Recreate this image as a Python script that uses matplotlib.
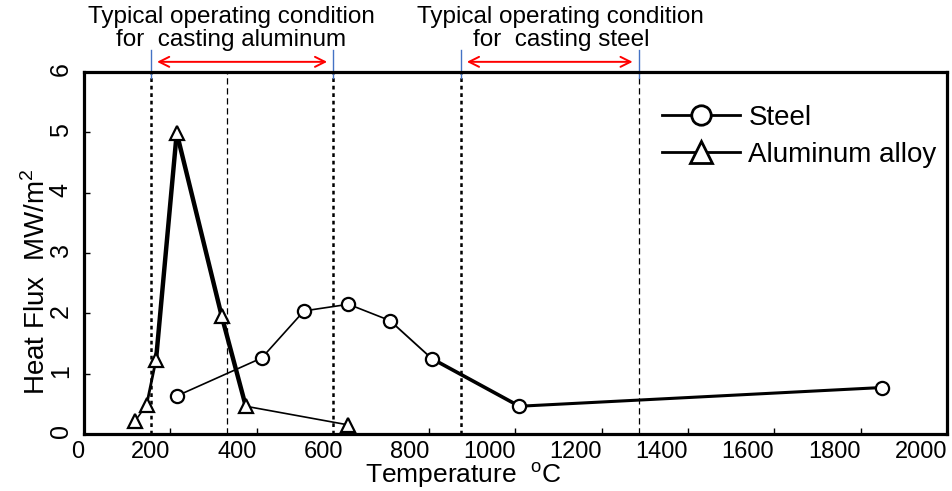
'''
Heat flux against temperature for steel and aluminium
casting, redrawn from a scanned figure
'''

import numpy as np
import matplotlib
matplotlib.use('Agg')
import matplotlib.pyplot as plt
from matplotlib.lines import Line2D

plt.rcParams['font.family']=['Liberation Sans','DejaVu Sans']
plt.rcParams['mathtext.fontset']='custom'
plt.rcParams['mathtext.rm']='Liberation Sans'

###########################################
# values

steelT=[215,412,510,613,709,806,1009,1849]          # temperature (C)
steelQ=[0.63,1.26,2.04,2.15,1.88,1.25,0.46,0.77]    # heat flux (MW/m2)
alT=[118,145,167,215,319,375,613]
alQ=[0.21,0.48,1.23,4.99,1.96,0.46,0.15]

# operating ranges and the extra guide line (C)
alRange=[155,578]
steelRange=[873,1286]
guideT=331

xTicks=[0,200,400,600,800,1000,1200,1400,1600,1800,2000]
yTicks=[0,1,2,3,4,5,6]

# the scan has uneven line weights, one per segment
steelLw=[1.2,1.2,1.2,1.2,1.3,2.6,2.2]
alLw=[1.2,2.0,3.2,3.2,3.2,1.2]

###########################################

def drawSeries(ax,x,y,lws,marker,ms):
  '''draw a series segment by segment, then markers on top'''
  for i in range(0,len(x)-1):
    ax.plot(x[i:i+2],y[i:i+2],color='k',lw=lws[i],solid_capstyle='round',zorder=3)
  ax.plot(x,y,ls='none',marker=marker,ms=ms,mfc='white',mec='k',mew=1.6,zorder=4)
  return


def drawRange(ax,lims,xc,line1,line2):
  '''red arrow, blue ticks and the two line caption above the axes'''
  tr=ax.get_xaxis_transform()
  for x in lims:
    ax.plot([x,x],[0.983,1.061],color='#4472c4',lw=1.0,transform=tr,clip_on=False)
  ax.annotate('',xy=(lims[0]+8,1.028),xytext=(lims[1]-8,1.028),xycoords=tr,textcoords=tr,
              arrowprops=dict(arrowstyle='<->',color='red',lw=1.4,mutation_scale=18),annotation_clip=False)
  ax.text(xc,1.152,line1,transform=tr,ha='center',va='center',fontsize=17.5)
  ax.text(xc,1.088,line2,transform=tr,ha='center',va='center',fontsize=17.5)
  return


fig=plt.figure(figsize=(9.52,4.91),dpi=100)
ax=fig.add_axes([0.0882,0.1161,0.9065,0.7373])

# dashed guide lines
for x in [alRange[0],alRange[1],steelRange[0]]:
  ax.axvline(x,color='k',lw=1.8,ls=(0,(1.5,1.5)),zorder=1)
for x in [guideT,steelRange[1]]:
  ax.axvline(x,color='k',lw=0.9,ls=(0,(5,3)),zorder=1)

drawSeries(ax,alT,alQ,alLw,'^',10)
drawSeries(ax,steelT,steelQ,steelLw,'o',9.5)

drawRange(ax,alRange,341,'Typical operating condition','for  casting aluminum')
drawRange(ax,steelRange,1105,'Typical operating condition','for  casting steel')

ax.set_xlim(0,2000)
ax.set_ylim(0,6)
ax.set_xticks(xTicks)
ax.set_xticklabels([str(t) for t in xTicks],ha='right')
ax.set_yticks(yTicks)
ax.tick_params(axis='x',direction='in',length=4,width=1,labelsize=17,pad=5)
ax.tick_params(axis='y',direction='in',length=4,width=1,labelsize=18,pad=8,labelrotation=90)
for s in ax.spines.values():
  s.set_linewidth(2.3)

ax.set_xlabel(r'Temperature  $^{\mathrm{o}}$C',fontsize=19)
ax.xaxis.label.set_va('baseline')
ax.xaxis.set_label_coords(0.44,-0.136)
ax.set_ylabel('Heat Flux  MW/m$^{2}$',fontsize=20)
ax.yaxis.set_label_coords(-0.038,0.42)

# legend
handles=[Line2D([],[],color='k',lw=2,marker='o',ms=14,mfc='white',mec='k',mew=2),
         Line2D([],[],color='k',lw=2,marker='^',ms=16,mfc='white',mec='k',mew=2)]
ax.legend(handles,['Steel','Aluminum alloy'],loc='upper left',bbox_to_anchor=(0.67,0.91),
          frameon=False,fontsize=20,handlelength=2.8,handletextpad=0.3,labelspacing=0.4,
          borderpad=0,borderaxespad=0)

plt.savefig('out.png',dpi=100)
plt.close()
